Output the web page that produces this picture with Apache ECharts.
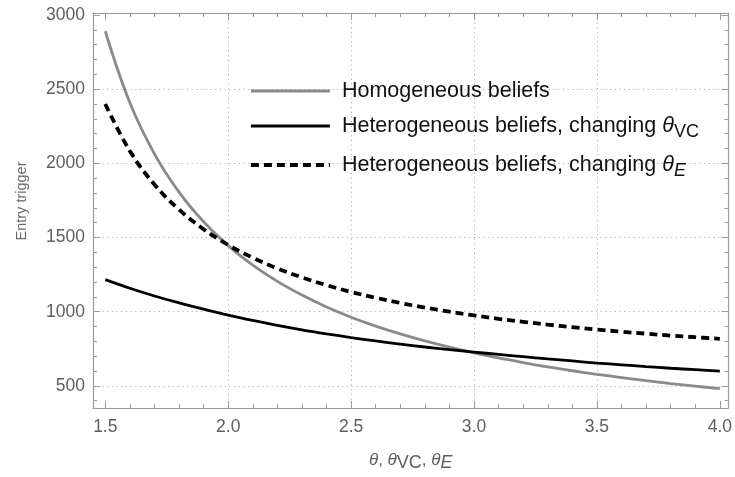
<!DOCTYPE html>
<html><head><meta charset="utf-8">
<script src="https://cdn.jsdelivr.net/npm/echarts@6/dist/echarts.min.js"></script>
<style>html,body{margin:0;padding:0;background:#fff}#c{width:735px;height:477px}</style>
</head><body><div id="c"></div>
<script>
// ---- data ----
const theta = [1.5,1.6,1.7,1.8,1.9,2.0,2.1,2.2,2.3,2.4,2.5,2.6,2.7,2.8,2.9,3.0,3.1,3.2,3.3,3.4,3.5,3.6,3.7,3.8,3.9,4.0];
const homogeneous = [2890,2408,2064,1806,1606,1445,1314,1204,1112,1032,963,903,850,803,761,723,688,657,628,602,578,556,535,516,498,482];
const hetVC = [1216,1158,1106,1060,1017,977,941,908,878,851,826,803,782,762,744,728,712,697,682,668,654,642,630,619,609,599];
const hetE = [2400,2083,1857,1688,1556,1450,1364,1292,1231,1179,1133,1094,1059,1028,1000,975,952,932,913,896,880,865,852,839,828,817];
const seriesNames = ['Homogeneous beliefs','Heterogeneous beliefs, changing θVC','Heterogeneous beliefs, changing θE'];
const xTickLabels = [1.5,2.0,2.5,3.0,3.5,4.0];
const yTickLabels = [500,1000,1500,2000,2500,3000];
const xGridLines = [2.0,2.5,3.0,3.5];
const yGridLines = [500,1000,1500,2000,2500];

// ---- minor tick positions ----
const xMinor = [];
for (let k = 15; k <= 40; k++) if (k % 5 !== 0) xMinor.push(k / 10);
const yMinor = [];
for (let v = 400; v <= 3000; v += 100) if (v % 500 !== 0) yMinor.push(v);

const X_MIN = 1.45, X_MAX = 4.035, Y_MIN = 351, Y_MAX = 3013;
const FRAME = '#9a9a9a', LABEL = '#5e5e5e', FONT = 'Liberation Sans';

function axis(kind, pos, opts) {
  const base = {
    type: 'value', position: pos,
    min: kind === 'x' ? X_MIN : Y_MIN, max: kind === 'x' ? X_MAX : Y_MAX,
    axisLine: {show: false, onZero: false},
    axisTick: {show: false},
    axisLabel: {show: false},
    splitLine: {show: false},
    minorTick: {show: false}
  };
  return Object.assign(base, opts);
}
const major = vals => ({show: true, inside: true, length: 7, customValues: vals, lineStyle: {color: FRAME, width: 1}});
const minor = vals => ({show: true, inside: true, length: 4, customValues: vals, lineStyle: {color: FRAME, width: 1}});
const frameLine = {show: true, onZero: false, lineStyle: {color: FRAME, width: 1.2}};
const grid = vals => ({splitLine: {show: true, lineStyle: {color: '#b0b0b0', width: 1, type: [1.2, 3.5]}}, axisTick: {show: false, customValues: vals}});

const xAxes = [
  axis('x', 'bottom', {
    axisLine: frameLine, axisTick: major(xTickLabels),
    axisLabel: {show: true, customValues: xTickLabels, margin: 10, color: LABEL, fontSize: 17.5, fontFamily: FONT,
      formatter: v => Number(v).toFixed(1)},
    name: '{t|θ}{n|, }{t|θ}{s|VC}{n|, }{t|θ}{se|E}', nameLocation: 'middle', nameGap: 40,
    nameTextStyle: {color: LABEL, fontFamily: FONT, rich: {
      t: {fontSize: 17, fontStyle: 'italic', fontFamily: FONT, color: LABEL, lineHeight: 24},
      n: {fontSize: 17, fontFamily: FONT, color: LABEL, lineHeight: 24},
      s: {fontSize: 18, fontFamily: FONT, color: LABEL, verticalAlign: 'bottom'},
      se: {fontSize: 18, fontStyle: 'italic', fontFamily: FONT, color: LABEL, verticalAlign: 'bottom'}
    }}
  }),
  axis('x', 'bottom', {axisTick: minor(xMinor)}),
  axis('x', 'top', {axisLine: frameLine, axisTick: major(xTickLabels)}),
  axis('x', 'top', {axisTick: minor(xMinor)}),
  axis('x', 'bottom', grid(xGridLines))
];
const yAxes = [
  axis('y', 'left', {
    axisLine: frameLine, axisTick: major(yTickLabels),
    axisLabel: {show: true, customValues: yTickLabels, margin: 8, color: LABEL, fontSize: 17.5, fontFamily: FONT,
      formatter: v => String(Math.round(v))},
    name: 'Entry trigger', nameLocation: 'middle', nameGap: 64,
    nameTextStyle: {color: '#6a6a6a', fontSize: 14.5, fontFamily: FONT, padding: [0, 0, 0, 19]}
  }),
  axis('y', 'left', {axisTick: minor(yMinor)}),
  axis('y', 'right', {axisLine: frameLine, axisTick: major(yTickLabels)}),
  axis('y', 'right', {axisTick: minor(yMinor)}),
  axis('y', 'left', grid(yGridLines))
];

function pairs(ys) { return theta.map((t, i) => [t, ys[i]]); }
const styles = [
  {color: '#8a8a8a', width: 2.8, type: 'solid'},
  {color: '#000000', width: 2.8, type: 'solid'},
  {color: '#000000', width: 3.8, type: [8, 5]}
];
const dataSets = [homogeneous, hetVC, hetE];
const series = dataSets.map((d, i) => ({
  type: 'line', name: seriesNames[i], data: pairs(d),
  xAxisIndex: 0, yAxisIndex: 0,
  smooth: 0.4, symbol: 'none',
  lineStyle: styles[i], itemStyle: {color: styles[i].color},
  z: 10 + i
}));

const legendRich = {
  a: {fontSize: 21.5, fontFamily: FONT, color: '#111', lineHeight: 30},
  t: {fontSize: 21.5, fontFamily: FONT, color: '#111', fontStyle: 'italic', lineHeight: 30},
  s: {fontSize: 18, fontFamily: FONT, color: '#111', verticalAlign: 'bottom'},
  se: {fontSize: 18, fontFamily: FONT, color: '#111', fontStyle: 'italic', verticalAlign: 'bottom'}
};
function legendFmt(name) {
  if (name === seriesNames[1]) return '{a|Heterogeneous beliefs, changing }{t|θ}{s|VC}';
  if (name === seriesNames[2]) return '{a|Heterogeneous beliefs, changing }{t|θ}{se|E}';
  return '{a|' + name + '}';
}

const chart = echarts.init(document.getElementById('c'), null, {renderer: 'canvas'});
chart.setOption({
  animation: false,
  backgroundColor: '#fff',
  grid: {left: 93, right: 3, top: 13, bottom: 67, containLabel: false},
  xAxis: xAxes,
  yAxis: yAxes,
  legend: {
    orient: 'vertical', left: 244, top: 75, itemWidth: 79, itemHeight: 14, itemGap: 13,
    data: seriesNames, formatter: legendFmt,
    itemStyle: {opacity: 0},
    lineStyle: {width: 'inherit'},
    textStyle: {fontSize: 21.5, fontFamily: FONT, color: '#111', padding: [0, 0, 0, 7], rich: legendRich}
  },
  series: series
});
</script>
</body></html>
